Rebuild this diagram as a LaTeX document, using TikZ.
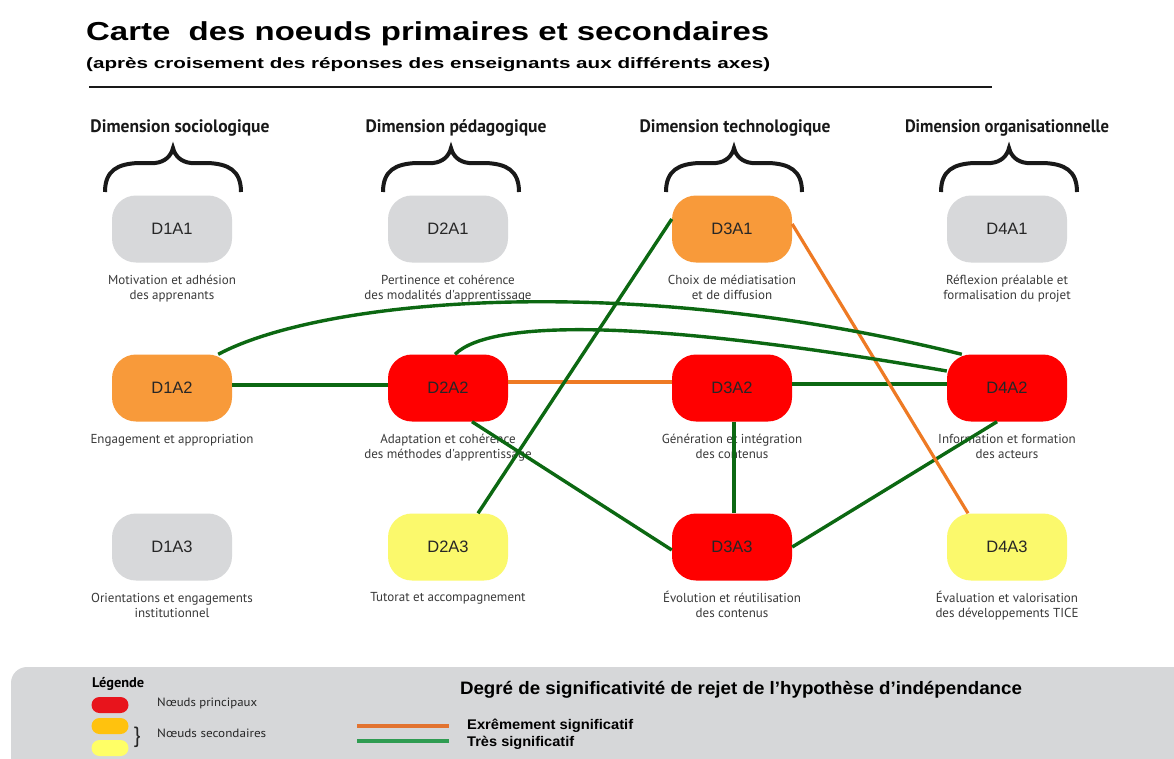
\documentclass[tikz,border=0pt]{standalone}
\usepackage{fontspec}
\setmainfont{Liberation Sans}
\newfontfamily\dinfont{PT Sans}
\usetikzlibrary{calc}
\definecolor{nodegray}{HTML}{D7D8DA}
\definecolor{nodeorange}{HTML}{F89A3A}
\definecolor{nodered}{HTML}{FF0000}
\definecolor{nodeyellow}{HTML}{FBF96C}
\definecolor{lgreen}{RGB}{12,104,18}
\definecolor{lorange}{RGB}{238,122,36}
\definecolor{legendgray}{HTML}{D6D7D9}
\definecolor{legred}{HTML}{E8141C}
\definecolor{leggold}{HTML}{FFC20E}
\definecolor{legyellow}{HTML}{FFFF66}
\definecolor{legorange}{HTML}{E27330}
\definecolor{leggreen}{HTML}{2F9C52}
\definecolor{captext}{HTML}{3A3A3A}
\newcommand\fitto[2]{\resizebox{#1pt}{\height}{#2}}
\begin{document}
\begin{tikzpicture}[x=1pt,y=-1pt,
  box/.style={rounded corners=24pt, minimum width=120pt, minimum height=67pt, inner sep=0pt,
    font=\fontsize{16.5}{18}\selectfont, text=black!85},
  gbox/.style={box, fill=nodegray},
  obox/.style={box, fill=nodeorange},
  rbox/.style={box, fill=nodered},
  ybox/.style={box, fill=nodeyellow},
  captxt/.style={font=\dinfont\fontsize{13}{15}\selectfont, text=captext, align=center, inner sep=0pt, anchor=base},
  head/.style={font=\dinfont\bfseries\fontsize{18}{20}\selectfont, text=black!90, inner sep=0pt, anchor=base},
  link/.style={line width=3.4pt, color=lgreen},
  olink/.style={line width=3.2pt, color=lorange},
  mybrace/.pic={\draw[line width=4pt, black!90]
     (-68,44) .. controls (-68,22) and (-55,16) .. (-35,15) -- (-18,15)
     .. controls (-8,14) and (-2,8) .. (0,0) .. controls (2,8) and (8,14) .. (18,15)
     -- (35,15) .. controls (55,16) and (68,22) .. (68,44);},
  pill/.style={rounded corners=8pt, minimum width=37pt, minimum height=16pt, inner sep=0pt},
  legtext/.style={font=\dinfont\fontsize{12}{14}\selectfont, text=black!85, inner sep=0pt, anchor=west},
  legbold/.style={font=\bfseries\fontsize{14}{16}\selectfont, text=black, inner sep=0pt, anchor=west}
]
\useasboundingbox (0,0) rectangle (1174,758);
\fill[white] (0,0) rectangle (1174,758);

% title
\node[anchor=base west, inner sep=0pt, font=\bfseries\fontsize{26}{28}\selectfont] (title) at (86,40)
  {\fitto{683}{Carte \ des noeuds primaires et secondaires}};
\node[anchor=base west, inner sep=0pt, font=\bfseries\fontsize{15}{17}\selectfont] (subtitle) at (86,68)
  {\fitto{684}{(après croisement des réponses des enseignants aux différents axes)}};
\coordinate (rule1) at (89,87);
\coordinate (rule2) at (992,87);
\draw[line width=1.6pt, black!90] (rule1) -- (rule2);

% headers
\node[head] (h1) at (180,132) {\fitto{179}{Dimension sociologique}};
\node[head] (h2) at (456,132) {\fitto{181}{Dimension pédagogique}};
\node[head] (h3) at (735,132) {\fitto{191}{Dimension technologique}};
\node[head] (h4) at (1007,132) {\fitto{204}{Dimension organisationnelle}};

% braces
\pic at (173,148) {mybrace};
\pic at (451,148) {mybrace};
\pic at (734,148) {mybrace};
\pic at (1009,148) {mybrace};

% nodes
\node[gbox] (D1A1) at (172,229) {D1A1};
\node[gbox] (D2A1) at (448,229) {D2A1};
\node[obox] (D3A1) at (732,229) {D3A1};
\node[gbox] (D4A1) at (1007,229) {D4A1};
\node[obox] (D1A2) at (172,388) {D1A2};
\node[rbox] (D2A2) at (448,388) {D2A2};
\node[rbox] (D3A2) at (732,388) {D3A2};
\node[rbox] (D4A2) at (1007,388) {D4A2};
\node[gbox] (D1A3) at (172,547) {D1A3};
\node[ybox] (D2A3) at (448,547) {D2A3};
\node[rbox] (D3A3) at (732,547) {D3A3};
\node[ybox] (D4A3) at (1007,547) {D4A3};

% captions (anchor = baseline of last line)
\node[captxt] (c11) at (172,299) {Motivation et adhésion\\des apprenants};
\node[captxt] (c21) at (448,299) {Pertinence et cohérence\\des modalités d'apprentissage};
\node[captxt] (c31) at (732,299) {Choix de médiatisation\\et de diffusion};
\node[captxt] (c41) at (1007,299) {Réflexion préalable et\\formalisation du projet};
\node[captxt] (c12) at (172,443) {Engagement et appropriation};
\node[captxt] (c22) at (448,458) {Adaptation et cohérence\\des méthodes d'apprentissage};
\node[captxt] (c32) at (732,458) {Génération et intégration\\des contenus};
\node[captxt] (c42) at (1007,458) {Information et formation\\des acteurs};
\node[captxt] (c13) at (172,617) {Orientations et engagements\\institutionnel};
\node[captxt] (c23) at (448,601) {Tutorat et accompagnement};
\node[captxt] (c33) at (732,617) {Évolution et réutilisation\\des contenus};
\node[captxt] (c43) at (1007,617) {Évaluation et valorisation\\des développements TICE};

% connectors
\draw[link] ([yshift=3pt]D1A2.east) -- ([yshift=3pt]D2A2.west);
\draw[olink] ([yshift=6pt]D2A2.east) -- ([yshift=6pt]D3A2.west);
\draw[link] ([yshift=4pt]D3A2.east) -- ([yshift=4pt]D4A2.west);
\draw[link] ([xshift=2pt]D3A2.south) -- ([xshift=2pt]D3A3.north);
\draw[link] ([xshift=24pt]D2A2.south) -- ([yshift=-3pt]D3A3.west);
\draw[link] (D3A3.east) -- ([xshift=-10pt]D4A2.south);
\draw[link] ([xshift=30pt]D2A3.north) -- ([yshift=10pt]D3A1.west);
\draw[olink] ([yshift=5pt]D3A1.east) -- ([xshift=-39pt]D4A3.north);
\draw[link] ([xshift=-14pt]D1A2.north east) .. controls (320,300) and (620,270) .. ([xshift=15pt]D4A2.north west);
\draw[link] ([xshift=7pt]D2A2.north) .. controls (490,320) and (640,318) .. ([yshift=17pt]D4A2.west);

% legend band
\begin{scope}
\clip (0,0) rectangle (1174,758);
\fill[legendgray, rounded corners=16pt] (11,667) rectangle (1200,800);
\end{scope}
\node[anchor=base west, inner sep=0pt, font=\dinfont\bfseries\fontsize{14}{16}\selectfont] (legtitle) at (92,687) {\fitto{52}{Légende}};
\node[pill, fill=legred] (p1) at (110,705) {};
\node[pill, fill=leggold] (p2) at (110,726) {};
\node[pill, fill=legyellow] (p3) at (110,748) {};
\node[legtext] (l1) at (157,703) {\fitto{100}{Nœuds principaux}};
\node[inner sep=0pt, font=\dinfont\fontsize{22}{22}\selectfont, text=black!85] (lbrace) at (137,737) {\}};
\node[legtext] (l2) at (157,733) {\fitto{109}{Nœuds secondaires}};
\node[inner sep=0pt, font=\bfseries\fontsize{18}{20}\selectfont] (legdeg) at (741,690) {\fitto{562}{Degré de significativité de rejet de l'hypothèse d'indépendance}};
\coordinate (lo1) at (357,726); \coordinate (lo2) at (449,726);
\coordinate (lg1) at (357,741); \coordinate (lg2) at (449,741);
\draw[line width=4pt, legorange] (lo1) -- (lo2);
\draw[line width=3.5pt, leggreen] (lg1) -- (lg2);
\node[legbold] (e1) at (467,726) {\fitto{166}{Exrêmement significatif}};
\node[legbold] (e2) at (467,743) {\fitto{107}{Très significatif}};
\end{tikzpicture}
\end{document}
